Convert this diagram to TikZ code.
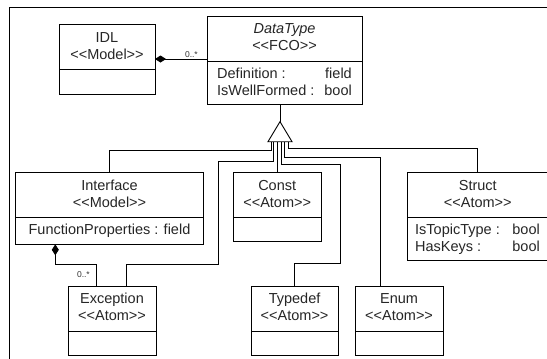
\documentclass[tikz,border=0pt]{standalone}
\usepackage{fontspec}
\setmainfont{Liberation Sans}[Ligatures=TeXOff]
\usetikzlibrary{arrows.meta,calc}
\begin{document}
\begin{tikzpicture}[x=1pt,y=-1pt,
  box/.style={draw, line width=0.9pt, anchor=north west, inner sep=0pt, outer sep=0pt},
  lbl/.style={font=\fontsize{14.5}{16}\selectfont, inner sep=0pt, anchor=base, text=black!85},
  lw/.style={lbl, anchor=base west},
  le/.style={lbl, anchor=base east},
  conn/.style={line width=0.9pt},
  mult/.style={font=\fontsize{8.5}{10}\selectfont, inner sep=0pt, anchor=base east, text=black!80},
  comp/.style={conn, {Diamond[length=11pt,width=7pt]}-}
]
\useasboundingbox (0,0) rectangle (547,359);
\clip (0,0) rectangle (547,359);
\fill[white] (0,0) rectangle (547,359);
% frame
\draw[conn] (9.3,380) -- (9.3,7.3) -- (570,7.3);

% class boxes
\node[box, minimum width=96pt, minimum height=70pt] (idl) at (59,24) {};
\node[box, minimum width=155pt, minimum height=88pt] (dt) at (207,16) {};
\node[box, minimum width=187.6pt, minimum height=71.6pt] (intf) at (15.7,172.7) {};
\node[box, minimum width=87.7pt, minimum height=69pt] (cst) at (233.3,172.7) {};
\node[box, minimum width=141pt, minimum height=87.3pt] (strc) at (407.3,172.7) {};
\node[box, minimum width=88pt, minimum height=69pt] (exc) at (68,286) {};
\node[box, minimum width=87.3pt, minimum height=69pt] (tdef) at (251,286) {};
\node[box, minimum width=88.3pt, minimum height=69pt] (enm) at (355,286) {};

% separators
\draw[conn] ($(idl.north west)+(0,45)$) -- ($(idl.north east)+(0,45)$);
\draw[conn] ($(dt.north west)+(0,45)$) -- ($(dt.north east)+(0,45)$);
\draw[conn] ($(intf.north west)+(0,44.8)$) -- ($(intf.north east)+(0,44.8)$);
\draw[conn] ($(cst.north west)+(0,44.3)$) -- ($(cst.north east)+(0,44.3)$);
\draw[conn] ($(strc.north west)+(0,44.3)$) -- ($(strc.north east)+(0,44.3)$);
\draw[conn] ($(exc.north west)+(0,45)$) -- ($(exc.north east)+(0,45)$);
\draw[conn] ($(tdef.north west)+(0,45)$) -- ($(tdef.north east)+(0,45)$);
\draw[conn] ($(enm.north west)+(0,45)$) -- ($(enm.north east)+(0,45)$);

% texts
\node[lbl] (idl1) at (107,42) {IDL};
\node[lbl] (idl2) at (107,59) {<<Model>>};
\node[lbl] (dt1) at (284.5,33.5) {\itshape DataType};
\node[lbl] (dt2) at (284.5,50) {<<FCO>>};
\node[lw] (dt3) at (217,78) {Definition :};
\node[le] (dt4) at (352,78) {field};
\node[lw] (dt5) at (217,95) {IsWellFormed :};
\node[le] (dt6) at (352,95) {bool};
\node[lbl] (if1) at (109.5,190) {Interface};
\node[lbl] (if2) at (109.5,207.5) {<<Model>>};
\node[lbl] (if3) at (109.5,234.5) {FunctionProperties : field};
\node[lbl] (cs1) at (277.2,190) {Const};
\node[lbl] (cs2) at (277.2,207.5) {<<Atom>>};
\node[lbl] (st1) at (477.8,190) {Struct};
\node[lbl] (st2) at (477.8,207.5) {<<Atom>>};
\node[lw] (st3) at (415,234.5) {IsTopicType :};
\node[le] (st4) at (540,234.5) {bool};
\node[lw] (st5) at (415,251.5) {HasKeys :};
\node[le] (st6) at (540,251.5) {bool};
\node[lbl] (ex1) at (112,303) {Exception};
\node[lbl] (ex2) at (112,320.5) {<<Atom>>};
\node[lbl] (td1) at (294.6,303) {Typedef};
\node[lbl] (td2) at (294.6,320.5) {<<Atom>>};
\node[lbl] (en1) at (399.1,303) {Enum};
\node[lbl] (en2) at (399.1,320.5) {<<Atom>>};

% compositions
\draw[comp] (idl.east) -- (idl.east -| dt.west);
\node[mult] (m1) at (198,57.5) {0..*};
\draw[comp] ($(intf.south west)+(39.6,0)$) |- ($(exc.north west)+(28,-21.7)$) -- ($(exc.north west)+(28,0)$);
\node[mult] (m2) at (90,277.5) {0..*};

% generalization
\coordinate (apex) at (280,121.7);
\draw[conn] (apex |- dt.south) -- (apex);
\draw[conn] ($(apex)+(-9,20)$) |- ($(intf.north)+(0,-22)$) -- (intf.north);
\draw[conn] ($(apex)+(-6.3,20)$) |- (218,161) |- ($(exc.north)+(14,-21.7)$) -- ($(exc.north)+(14,0)$);
\draw[conn] ($(cst.north)+(0,-31)$) -- (cst.north);
\draw[conn] ($(apex)+(1.3,20)$) |- (340,164) |- ($(tdef.north)+(0,-23)$) -- (tdef.north);
\draw[conn] ($(apex)+(4.5,20)$) |- ($(enm.north)+(-18.5,-129)$) -- ($(enm.north)+(-18.5,0)$);
\draw[conn] ($(apex)+(8,20)$) |- ($(strc.north)+(0,-24.2)$) -- (strc.north);
\draw[conn, fill=white, line join=miter] (apex) -- ++(-12,20) -- ++(24,0) -- cycle;
\end{tikzpicture}
\end{document}
